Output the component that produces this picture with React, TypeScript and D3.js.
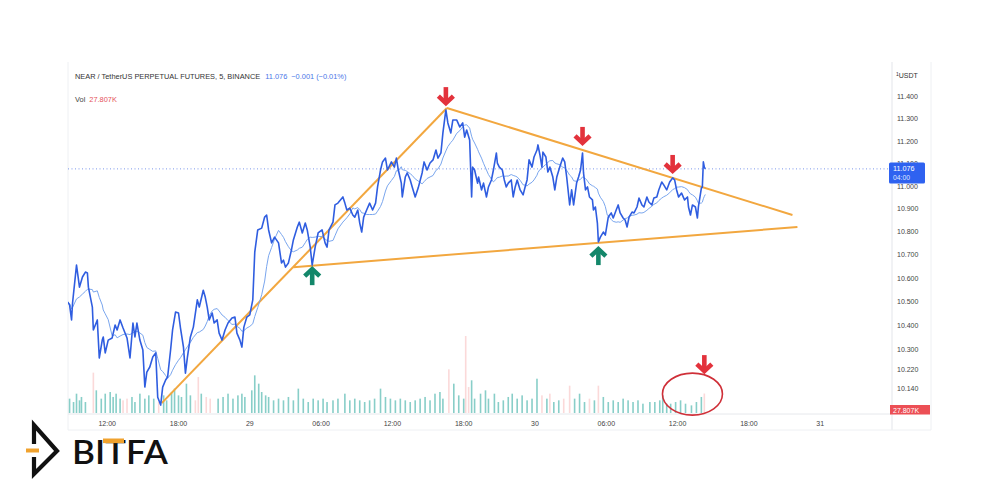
import React from 'react';
import * as d3 from 'd3';

// 5-minute bars, bar 0 = 28 Jan 08:40
const START_HOUR = 8 + 40 / 60;

const priceBars = [
  0, 2, 4, 5, 9, 12, 15, 18, 20, 21,
  25, 26, 30, 32, 35, 36, 38, 41, 45, 48,
  50, 53, 56, 60, 63, 66, 68, 70, 73, 76,
  78, 80, 83, 86, 89, 91, 94, 96, 99, 101,
  104, 106, 109, 112, 114, 117, 119, 121, 124, 127,
  131, 133, 137, 139, 141, 143, 146, 148, 151, 153,
  156, 159, 162, 166, 169, 171, 174, 176, 178, 181,
  184, 187, 189, 192, 196, 199, 201, 203, 206, 209,
  213, 216, 218, 220, 223, 226, 228, 232, 234, 237,
  240, 242, 245, 247, 250, 253, 257, 260, 262, 264,
  268, 270, 273, 278, 280, 282, 285, 288, 290, 293,
  295, 297, 299, 302, 305, 308, 311, 313, 316, 318,
  321, 323, 327, 330, 332, 334, 337, 338, 341, 343,
  346, 348, 351, 354, 358, 360, 363, 366, 369, 372,
  374, 377, 379, 382, 384, 387, 389, 393, 396, 399,
  401, 403, 406, 408, 409, 411, 414, 415, 418, 420,
  423, 425, 428, 430, 433, 434, 436, 439, 441, 443,
  445, 448, 450, 452, 454, 457, 460, 462, 464, 466,
  469, 471, 474, 475, 477, 479, 480, 483, 485, 487,
  490, 492, 494, 497, 500, 502, 504, 507, 509, 511,
  514, 516, 518, 520, 521, 523, 525, 527, 530, 531,
  533, 535, 536, 538, 541, 543, 545, 546, 549, 551,
  554, 556, 558, 561, 563, 565, 567, 570, 572, 575,
  577, 580, 582, 585, 587, 590, 592, 595, 597, 600,
  602, 605, 608, 611, 613, 615, 617, 620, 623, 626,
  627, 629, 631, 634, 636, 637, 640, 641, 642, 643, 644,
];

const priceClose = [
  10.500, 10.488, 10.425, 10.496, 10.657, 10.563, 10.606, 10.627, 10.623, 10.563,
  10.479, 10.383, 10.425, 10.267, 10.341, 10.354, 10.288, 10.341, 10.350, 10.404,
  10.383, 10.425, 10.391, 10.350, 10.267, 10.412, 10.354, 10.412, 10.341, 10.300,
  10.148, 10.209, 10.230, 10.271, 10.288, 10.107, 10.075, 10.148, 10.177, 10.189,
  10.300, 10.383, 10.458, 10.454, 10.391, 10.312, 10.205, 10.271, 10.354, 10.395,
  10.509, 10.479, 10.550, 10.521, 10.479, 10.425, 10.454, 10.412, 10.425, 10.370,
  10.341, 10.383, 10.412, 10.433, 10.437, 10.370, 10.341, 10.312, 10.395, 10.437,
  10.446, 10.509, 10.712, 10.808, 10.816, 10.864, 10.873, 10.808, 10.752, 10.777,
  10.752, 10.666, 10.678, 10.648, 10.666, 10.721, 10.765, 10.821, 10.842, 10.795,
  10.838, 10.808, 10.734, 10.657, 10.734, 10.795, 10.808, 10.752, 10.734, 10.808,
  10.842, 10.917, 10.925, 10.952, 10.925, 10.895, 10.903, 10.873, 10.864, 10.895,
  10.838, 10.799, 10.864, 10.895, 10.925, 10.895, 10.925, 10.996, 11.071, 11.107,
  11.124, 11.071, 11.107, 11.084, 11.124, 11.071, 11.013, 10.952, 11.040, 11.058,
  11.027, 10.996, 10.952, 10.991, 11.058, 11.107, 11.071, 11.102, 11.116, 11.160,
  11.124, 11.147, 11.237, 11.341, 11.282, 11.237, 11.295, 11.295, 11.264, 11.282,
  11.218, 11.250, 11.205, 10.952, 11.084, 11.071, 11.013, 11.040, 10.983, 11.013,
  10.952, 10.996, 11.027, 11.071, 11.147, 11.102, 11.084, 11.071, 11.027, 10.996,
  11.013, 11.027, 10.952, 10.996, 11.027, 10.983, 10.961, 10.996, 11.027, 11.116,
  11.084, 11.129, 11.160, 11.183, 11.138, 11.084, 11.151, 11.129, 11.062, 11.084,
  11.040, 10.983, 11.040, 11.084, 11.124, 11.107, 11.040, 10.917, 10.983, 10.917,
  11.013, 11.040, 11.071, 11.147, 11.058, 10.983, 10.996, 10.952, 10.939, 10.895,
  10.908, 10.838, 10.756, 10.777, 10.799, 10.786, 10.838, 10.864, 10.882, 10.860,
  10.895, 10.917, 10.882, 10.860, 10.851, 10.821, 10.864, 10.886, 10.882, 10.908,
  10.947, 10.917, 10.908, 10.952, 10.930, 10.917, 10.947, 10.952, 10.983, 11.018,
  11.005, 10.983, 11.018, 11.036, 11.027, 10.983, 10.952, 10.969, 10.939, 10.952,
  10.908, 10.873, 10.917, 10.908, 10.860, 10.908, 10.991, 10.996, 11.107, 11.084, 11.076,
];

// Volume (thousands)
const volBars = [
  2, 6, 9, 12, 14, 18, 26, 29, 34, 38, 43, 46, 49, 53, 56, 60, 65, 68, 73, 78,
  82, 87, 92, 97, 100, 105, 108, 112, 115, 120, 124, 129, 132, 135, 140, 144, 152, 157, 162, 167,
  172, 176, 179, 186, 189, 193, 196, 200, 203, 208, 213, 218, 223, 228, 233, 238, 243, 248, 253, 258,
  262, 268, 273, 280, 285, 290, 295, 300, 305, 310, 316, 321, 326, 331, 336, 341, 346, 351, 356, 361,
  366, 371, 376, 379, 385, 390, 395, 400, 402, 405, 408, 411, 417, 422, 425, 431, 435, 440, 445, 449,
  454, 459, 464, 469, 474, 479, 484, 487, 491, 496, 501, 507, 512, 517, 522, 527, 532, 536, 541, 546,
  551, 556, 561, 566, 571, 576, 581, 588, 593, 598, 601, 605, 609, 614, 619, 624, 630, 635, 640, 643,
];
const volValues = [
  20.5, 15.7, 27.6, 18.1, 22.9, 15.7, 57.6, 32.4, 20.5, 27.6, 30.0, 22.9, 27.6, 20.5, 18.1, 20.5, 22.9, 15.7, 27.6, 20.5,
  25.2, 20.5, 15.7, 25.2, 18.1, 30.0, 34.8, 25.2, 22.9, 41.9, 25.2, 18.1, 51.4, 27.6, 22.9, 20.5, 20.5, 22.9, 27.6, 20.5,
  25.2, 27.6, 22.9, 32.4, 53.8, 41.9, 30.0, 25.2, 22.9, 18.1, 20.5, 18.1, 22.9, 18.1, 34.8, 20.5, 15.7, 20.5, 18.1, 20.5,
  15.7, 18.1, 20.5, 27.6, 18.1, 20.5, 18.1, 15.7, 18.1, 20.5, 34.8, 22.9, 20.5, 18.1, 20.5, 18.1, 15.7, 18.1, 20.5, 22.9,
  18.1, 27.6, 30.0, 20.5, 62.4, 41.9, 25.2, 20.5, 110.0, 37.1, 46.7, 20.5, 27.6, 32.4, 20.5, 27.6, 15.7, 18.1, 22.9, 27.6,
  20.5, 25.2, 18.1, 20.5, 49.0, 25.2, 20.5, 27.6, 15.7, 18.1, 20.5, 39.0, 20.5, 27.6, 15.7, 20.5, 18.1, 39.0, 22.9, 15.7,
  18.1, 15.7, 20.5, 18.1, 15.7, 18.1, 13.3, 15.7, 15.7, 18.1, 25.2, 13.3, 13.3, 15.7, 18.1, 13.3, 10.9, 15.7, 22.9, 27.807,
];
const volDown = [
  0, 0, 0, 0, 0, 0, 1, 0, 0, 0, 0, 0, 0, 0, 1, 1, 0, 0, 0, 0,
  0, 0, 1, 0, 0, 0, 0, 0, 0, 0, 0, 1, 1, 0, 1, 1, 0, 0, 0, 0,
  0, 0, 0, 0, 0, 0, 0, 0, 0, 0, 0, 0, 0, 0, 0, 0, 0, 0, 0, 0,
  0, 0, 0, 0, 0, 0, 0, 0, 0, 0, 0, 0, 0, 0, 0, 0, 0, 0, 0, 0,
  0, 0, 0, 0, 1, 0, 0, 0, 1, 1, 0, 0, 0, 0, 0, 0, 0, 0, 0, 0,
  0, 0, 0, 0, 0, 1, 0, 1, 0, 0, 1, 1, 0, 0, 0, 1, 0, 1, 0, 0,
  0, 0, 0, 0, 0, 0, 0, 0, 0, 0, 0, 0, 0, 0, 0, 0, 0, 0, 0, 1,
];

const priceTicks = [11.4, 11.3, 11.2, 11.1, 11.0, 10.9, 10.8, 10.7, 10.6, 10.5, 10.4, 10.3, 10.22, 10.14];
const timeTickHours = [12, 18, 24, 30, 36, 42, 48, 54, 60, 66, 72];
const timeTickLabels = ['12:00', '18:00', '29', '06:00', '12:00', '18:00', '30', '06:00', '12:00', '18:00', '31'];

// Trend lines: [bar, price] -> [bar, price]
const trendFromBars = [95, 383, 228];
const trendFromPrices = [10.083, 11.35, 10.648];
const trendToBars = [383, 732, 737];
const trendToPrices = [11.35, 10.873, 10.821];

// Annotation arrows (tip location)
const arrowBars = [382, 520, 611, 247, 536];
const arrowPrices = [11.363, 11.183, 11.058, 10.648, 10.734];
const arrowDirs = ['down', 'down', 'down', 'up', 'up'];
const volArrowBar = 643;
const volArrowValue = 57;
const volCircleBar = 631;
const volCircleValue = 27;

const lastPrice = 11.076;
const lastVol = '27.807K';

const barHour = (b: number) => START_HOUR + b / 12;

function Arrow({ cx, tip, dir, color }: { cx: number; tip: number; dir: string; color: string }) {
  const s = dir === 'down' ? 1 : -1;
  return (
    <g stroke={color} strokeWidth={4.6} fill="none" strokeLinejoin="miter" strokeLinecap="butt">
      <line x1={cx} y1={tip - s * 18} x2={cx} y2={tip - s * 3} />
      <polyline points={`${cx - 7.5},${tip - s * 9} ${cx},${tip - s * 2} ${cx + 7.5},${tip - s * 9}`} />
    </g>
  );
}

export default function App() {
  const W = 1000;
  const H = 500;
  const left = 68;
  const right = 891;
  const top = 62;
  const volBase = 413;

  const x = d3.scaleLinear().domain([START_HOUR, 48]).range([67.6, 535]);
  const y = d3.scaleLog().domain([10.3, 11.4]).range([350, 97]);
  const yv = d3.scaleLinear().domain([0, 100]).range([volBase, volBase - 70]);

  const maWindow = 24;
  const ma = priceClose.map((_, i) => {
    const b = priceBars[i];
    const vals = priceClose.filter((__, j) => priceBars[j] > b - maWindow && priceBars[j] <= b);
    return d3.mean(vals) as number;
  });

  const line = d3
    .line<number>()
    .x((_, i) => x(barHour(priceBars[i])))
    .y((d) => y(d));

  const fmt = d3.format('.3f');
  const font = "'Liberation Sans', Arial, sans-serif";
  const lastY = y(lastPrice);

  return (
    <svg
      width={W}
      height={H}
      viewBox={`0 0 ${W} ${H}`}
      style={{ position: 'absolute', left: 0, top: 0, background: '#fff' }}
      fontFamily={font}
    >
      <defs>
        <clipPath id="plotClip">
          <rect x={left} y={top} width={right - left} height={volBase - top} />
        </clipPath>
      </defs>
      <rect width={W} height={H} fill="#fff" />

      {/* frame lines */}
      <line x1={left} y1={top} x2={left} y2={430} stroke="#eef0f3" strokeWidth={1} />
      <line x1={right + 1} y1={top} x2={right + 1} y2={430} stroke="#e3e5ea" strokeWidth={1} />
      <line x1={931} y1={top} x2={931} y2={430} stroke="#eef0f3" strokeWidth={1} />
      <line x1={left} y1={volBase + 1} x2={right + 1} y2={volBase + 1} stroke="#e6e8ec" strokeWidth={1} />
      <line x1={left} y1={430} x2={931} y2={430} stroke="#eef0f3" strokeWidth={1} />

      {/* header */}
      <text x={75} y={78.5} fontSize={7.4} fill="#333">
        NEAR / TetherUS PERPETUAL FUTURES, 5, BINANCE
        <tspan dx={5} fill="#4a78e8">11.076</tspan>
        <tspan dx={4} fill="#4a78e8">−0.001 (−0.01%)</tspan>
      </text>
      <text x={75} y={101.5} fontSize={7.4} fill="#444">
        Vol<tspan dx={4} fill="#e5535a">27.807K</tspan>
      </text>

      <g clipPath="url(#plotClip)">
        {/* volume */}
        {volBars.map((b, i) => (
          <rect
            key={'v' + i}
            x={x(barHour(b)) - 0.8}
            y={yv(volValues[i])}
            width={1.6}
            height={volBase - yv(volValues[i])}
            fill={volDown[i] ? 'rgba(239,83,80,0.22)' : 'rgba(38,166,154,0.55)'}
          />
        ))}

        {/* last price dotted line */}
        <line x1={left} y1={lastY} x2={right} y2={lastY} stroke="#5b7fe8" strokeWidth={1} strokeDasharray="1 2.5" opacity={0.8} />

        {/* trend lines */}
        {trendFromBars.map((b, i) => (
          <line
            key={'t' + i}
            x1={x(barHour(b))}
            y1={y(trendFromPrices[i])}
            x2={x(barHour(trendToBars[i]))}
            y2={y(trendToPrices[i])}
            stroke="#f2a73f"
            strokeWidth={2}
          />
        ))}

        {/* moving average */}
        <path d={line(ma) || ''} fill="none" stroke="#7aa6ee" strokeWidth={1} />
        {/* price */}
        <path d={line(priceClose) || ''} fill="none" stroke="#2f5de0" strokeWidth={1.6} strokeLinejoin="round" />
      </g>

      {/* arrows */}
      {arrowBars.map((b, i) => (
        <Arrow
          key={'a' + i}
          cx={x(barHour(b))}
          tip={y(arrowPrices[i])}
          dir={arrowDirs[i]}
          color={arrowDirs[i] === 'down' ? '#e3323c' : '#13876a'}
        />
      ))}
      <Arrow cx={x(barHour(volArrowBar))} tip={yv(volArrowValue)} dir="down" color="#e3323c" />
      <ellipse
        cx={x(barHour(volCircleBar))}
        cy={yv(volCircleValue)}
        rx={30}
        ry={21}
        fill="none"
        stroke="#cf2f38"
        strokeWidth={1.6}
      />

      {/* right axis */}
      <text x={896} y={78} fontSize={7} fill="#333">
        <tspan fontSize={5} dy={-2}>1</tspan>
        <tspan dy={2}>USDT</tspan>
      </text>
      {priceTicks.map((p) => (
        <text key={'p' + p} x={897} y={y(p)} dy="0.35em" fontSize={7} fill="#444">
          {fmt(p)}
        </text>
      ))}
      <rect x={889} y={lastY - 6.5} width={36} height={21} rx={1.5} fill="#2f62f0" />
      <text x={893} y={lastY + 2.5} fontSize={7.2} fill="#fff">{fmt(lastPrice)}</text>
      <text x={893} y={lastY + 11.5} fontSize={6.8} fill="#dfe6ff">04:00</text>
      <rect x={890} y={405} width={40} height={9.5} fill="#ec4f55" />
      <text x={893} y={412.5} fontSize={7} fill="#fff">{lastVol}</text>

      {/* time axis */}
      {timeTickHours.map((h, i) => (
        <text key={'h' + i} x={x(h)} y={425.5} fontSize={7} fill="#444" textAnchor="middle">
          {timeTickLabels[i]}
        </text>
      ))}

      {/* logo */}
      <g>
        <path d="M34,444 L34,425 L57,451 L34,474 L34,457" fill="none" stroke="#111" strokeWidth={4.2} strokeLinejoin="miter" />
        <line x1={26} y1={450.5} x2={39} y2={450.5} stroke="#f0a22e" strokeWidth={4} />
        <text
          x={72}
          y={463.5}
          fontSize={33}
          fontWeight={600}
          fontFamily="Lato, 'Noto Sans', sans-serif"
          fill="#111"
          textLength={96}
          lengthAdjust="spacingAndGlyphs"
        >
          BITFA
        </text>
        <rect x={103} y={438.5} width={21} height={4.6} fill="#f0a22e" />
      </g>
    </svg>
  );
}
